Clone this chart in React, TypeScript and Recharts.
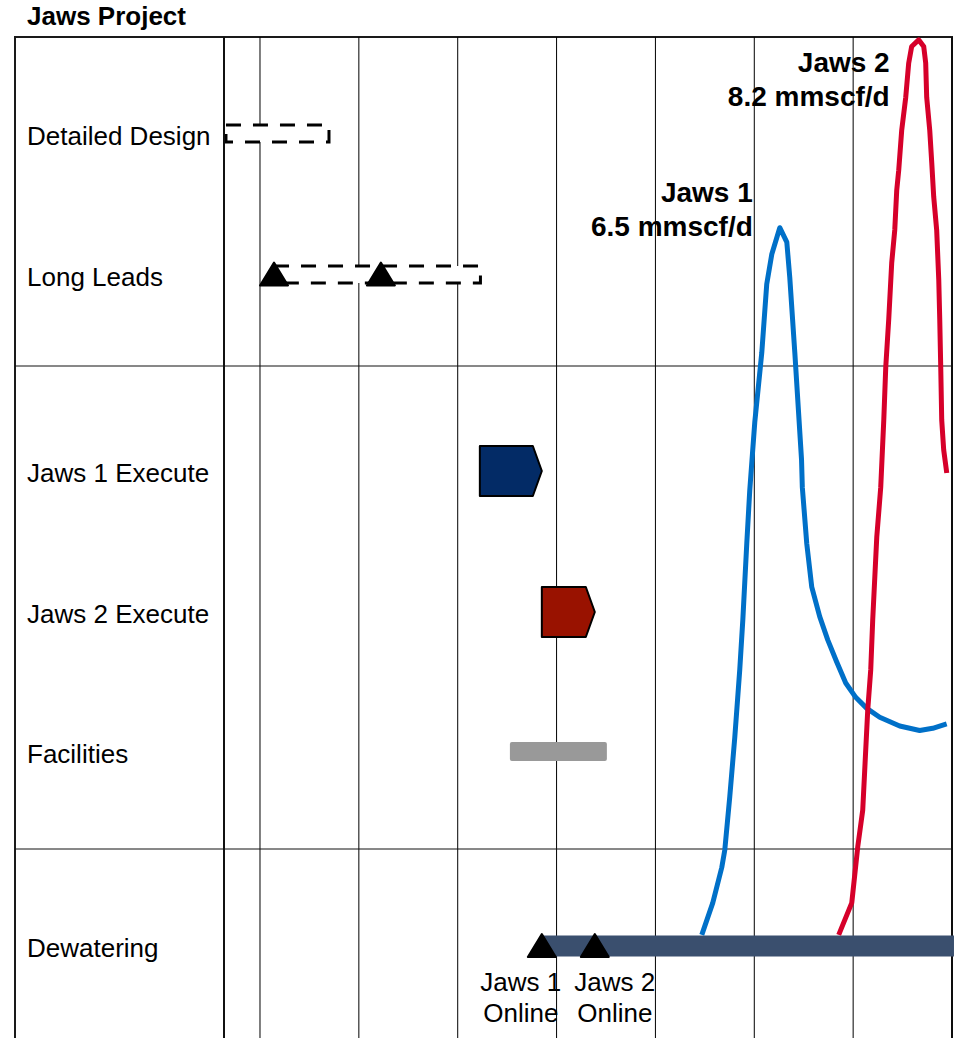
import React from 'react';
import {
  ComposedChart,
  Line,
  XAxis,
  YAxis,
  CartesianGrid,
  ReferenceArea,
  ReferenceDot,
  ReferenceLine,
} from 'recharts';

const FONT = '"Liberation Sans", Arial, Helvetica, sans-serif';

// time axis in quarters, counted from the first grid line
const quarterTicks = [0, 1, 2, 3, 4, 5, 6];
const timeDomain = [-0.364, 7.0];
const frameLeft = -2.478; // left edge of the label column, in quarters

// lanes, top to bottom (row units, 0 = top of plot)
const laneNames = [
  'Detailed Design',
  'Long Leads',
  'Jaws 1 Execute',
  'Jaws 2 Execute',
  'Facilities',
  'Dewatering',
];
const laneCenters = [0.965, 2.375, 4.34, 5.75, 7.145, 9.09];
const sectionBreaks = [3.29, 8.12];

// activities
const activityLane = [0, 1, 2, 3, 4, 5];
const activityStart = [-0.344, 0.142, 2.224, 2.851, 2.528, 2.851];
const activityEnd = [0.698, 2.23, 2.851, 3.387, 3.509, 7.02];
const activityKind = ['dashed', 'dashed', 'jaws1', 'jaws2', 'facilities', 'dewatering'];

// milestones
const milestoneLane = [1, 1, 5, 5];
const milestoneAt = [0.142, 1.223, 2.851, 3.387];
const milestoneLabel = [null, null, ['Jaws 1', 'Online'], ['Jaws 2', 'Online']];

// production profiles, mmscf/d
const jaws1Quarter = [
  4.469, 4.58, 4.671, 4.702, 4.752, 4.803, 4.853, 4.884, 4.924, 4.954,
  5.005, 5.076, 5.126, 5.177, 5.258, 5.329, 5.359, 5.41, 5.478, 5.486,
  5.531, 5.581, 5.662, 5.743, 5.834, 5.925, 6.026, 6.138, 6.269, 6.471,
  6.673, 6.805, 6.946,
];
const jaws1Rate = [
  0.1, 0.39, 0.71, 0.87, 1.35, 1.89, 2.5, 2.95, 3.64, 4.12,
  4.74, 5.37, 5.99, 6.26, 6.5, 6.37, 6.05, 5.37, 4.4, 4.15,
  3.64, 3.25, 2.98, 2.77, 2.57, 2.38, 2.25, 2.15, 2.07, 1.99,
  1.95, 1.97, 2.01,
];
const jaws2Quarter = [
  5.854, 5.986, 6.047, 6.097, 6.117, 6.148, 6.178, 6.198, 6.239, 6.279,
  6.31, 6.33, 6.36, 6.39, 6.421, 6.441, 6.461, 6.491, 6.532, 6.562,
  6.592, 6.663, 6.714, 6.734, 6.744, 6.775, 6.795, 6.815, 6.845, 6.866,
  6.876, 6.886, 6.896, 6.916, 6.947,
];
const jaws2Rate = [
  0.1, 0.39, 0.9, 1.23, 1.59, 2.14, 2.5, 2.95, 3.7, 4.15,
  4.76, 5.24, 5.67, 6.18, 6.48, 6.84, 7.02, 7.38, 7.68, 7.99,
  8.14, 8.2, 8.14, 7.99, 7.68, 7.38, 7.09, 6.78, 6.48, 6.03,
  5.67, 5.24, 4.76, 4.49, 4.28,
];

const toCurve = (qs: number[], rates: number[]) => qs.map((q, i) => ({ q, rate: rates[i] }));
const jaws1Curve = toCurve(jaws1Quarter, jaws1Rate);
const jaws2Curve = toCurve(jaws2Quarter, jaws2Rate);

const peakOf = (qs: number[], rates: number[]) => {
  const i = rates.indexOf(Math.max(...rates));
  return { q: qs[i], rate: rates[i] };
};

const wells = [
  { name: 'Jaws 1', peak: peakOf(jaws1Quarter, jaws1Rate), color: '#0070C8', dx: -27, dy: [-26, 8] },
  { name: 'Jaws 2', peak: peakOf(jaws2Quarter, jaws2Rate), color: '#D6002A', dx: -29, dy: [32, 66] },
];

const ActivityShape = (kind: string) => (props: any) => {
  const { x, y, width, height } = props;
  const cy = y + height / 2;
  if (kind === 'dashed') {
    const h = 17;
    return (
      <rect x={x} y={cy - h / 2} width={width} height={h} fill="#fff" stroke="#000"
        strokeWidth={3} strokeDasharray="15 12" />
    );
  }
  if (kind === 'jaws1' || kind === 'jaws2') {
    const h = 50;
    const tip = 9;
    const pts = [
      [x, cy - h / 2],
      [x + width - tip, cy - h / 2],
      [x + width, cy],
      [x + width - tip, cy + h / 2],
      [x, cy + h / 2],
    ].map((p) => p.join(',')).join(' ');
    return (
      <polygon points={pts} fill={kind === 'jaws1' ? '#032B66' : '#991200'}
        stroke="#000" strokeWidth={2} strokeLinejoin="round" />
    );
  }
  if (kind === 'facilities') {
    const h = 19;
    return <rect x={x} y={cy - h / 2} width={width} height={h} rx={2} fill="#999999" />;
  }
  const h = 21;
  return <rect x={x} y={cy - h / 2} width={width} height={h} fill="#3A4F6E" />;
};

const MilestoneShape = (label: string[] | null, side: number) => (props: any) => {
  const { cx, cy } = props;
  const w = 28;
  const pts = `${cx},${cy - 12} ${cx + w / 2},${cy + 11} ${cx - w / 2},${cy + 11}`;
  return (
    <g>
      <polygon points={pts} fill="#000" stroke="#000" strokeWidth={2} strokeLinejoin="round" />
      {label && (
        <text x={cx + side} textAnchor="middle" fontFamily={FONT} fontSize={26} fill="#000">
          <tspan x={cx + side} y={cy + 45}>{label[0]}</tspan>
          <tspan x={cx + side} y={cy + 76}>{label[1]}</tspan>
        </text>
      )}
    </g>
  );
};

const PeakLabel = (name: string, rate: number, dx: number, dy: number[]) => (props: any) => {
  const { cx, cy } = props;
  return (
    <text textAnchor="end" fontFamily={FONT} fontSize={28} fontWeight="bold" fill="#000">
      <tspan x={cx + dx} y={cy + dy[0]}>{name}</tspan>
      <tspan x={cx + dx} y={cy + dy[1]}>{`${rate.toFixed(1)} mmscf/d`}</tspan>
    </text>
  );
};

const LaneTick = (props: any) => {
  const { y, payload } = props;
  const i = laneCenters.indexOf(payload.value);
  return (
    <text x={27} y={y + 11} fontFamily={FONT} fontSize={26} fill="#000">
      {laneNames[i]}
    </text>
  );
};

export default function App() {
  return (
    <div style={{ position: 'absolute', left: 0, top: 0, width: 954, height: 1038, background: '#fff', overflow: 'hidden' }}>
      <div style={{ position: 'absolute', left: 27, top: 0, fontFamily: FONT, fontSize: 26, fontWeight: 'bold', lineHeight: '32px' }}>
        Jaws Project
      </div>
      <div
        style={{
          position: 'absolute',
          left: 14,
          top: 36,
          width: 939,
          height: 1010,
          boxSizing: 'border-box',
          borderLeft: '2px solid #1a1a1a',
          borderTop: '2px solid #1a1a1a',
          borderRight: '2px solid #1a1a1a',
        }}
      />
      <div style={{ position: 'absolute', left: 0, top: 0 }}>
        <ComposedChart width={954} height={1038} margin={{ top: 37, right: 2, bottom: 0, left: 15 }}>
          <CartesianGrid yAxisId="row" horizontal={false} vertical stroke="#000" strokeWidth={1} />
          <XAxis type="number" dataKey="q" domain={timeDomain} ticks={quarterTicks} hide allowDataOverflow />
          <YAxis
            yAxisId="row"
            type="number"
            domain={[0, 10.01]}
            reversed
            allowDataOverflow
            ticks={laneCenters}
            interval={0}
            width={209}
            axisLine={{ stroke: '#111', strokeWidth: 2 }}
            tickLine={false}
            tick={<LaneTick />}
          />
          <YAxis yAxisId="rate" orientation="right" width={0} type="number" domain={[-0.833, 8.226]} hide allowDataOverflow />

          {sectionBreaks.map((b) => (
            <ReferenceLine
              key={`break-${b}`}
              yAxisId="row"
              segment={[{ x: frameLeft, y: b }, { x: timeDomain[1], y: b }]}
              ifOverflow="visible"
              stroke="#111"
              strokeWidth={1}
            />
          ))}

          {activityKind.map((kind, i) => (
            <ReferenceArea
              key={`lane-${i}`}
              yAxisId="row"
              x1={activityStart[i]}
              x2={activityEnd[i]}
              y1={laneCenters[activityLane[i]] - 0.05}
              y2={laneCenters[activityLane[i]] + 0.05}
              ifOverflow="visible"
              shape={ActivityShape(kind)}
            />
          ))}

          <Line yAxisId="rate" data={jaws1Curve} dataKey="rate" type="linear" stroke={wells[0].color}
            strokeWidth={5} strokeLinejoin="round" dot={false} activeDot={false} isAnimationActive={false} />
          <Line yAxisId="rate" data={jaws2Curve} dataKey="rate" type="linear" stroke={wells[1].color}
            strokeWidth={5} strokeLinejoin="round" dot={false} activeDot={false} isAnimationActive={false} />

          {milestoneAt.map((m, i) => (
            <ReferenceDot
              key={`ms-${i}`}
              yAxisId="row"
              x={m}
              y={laneCenters[milestoneLane[i]]}
              r={0}
              ifOverflow="visible"
              shape={MilestoneShape(milestoneLabel[i], i === 2 ? -21 : 20)}
            />
          ))}

          {wells.map((w) => (
            <ReferenceDot
              key={`peak-${w.name}`}
              yAxisId="rate"
              x={w.peak.q}
              y={w.peak.rate}
              r={0}
              ifOverflow="visible"
              shape={PeakLabel(w.name, w.peak.rate, w.dx, w.dy)}
            />
          ))}
        </ComposedChart>
      </div>
    </div>
  );
}
